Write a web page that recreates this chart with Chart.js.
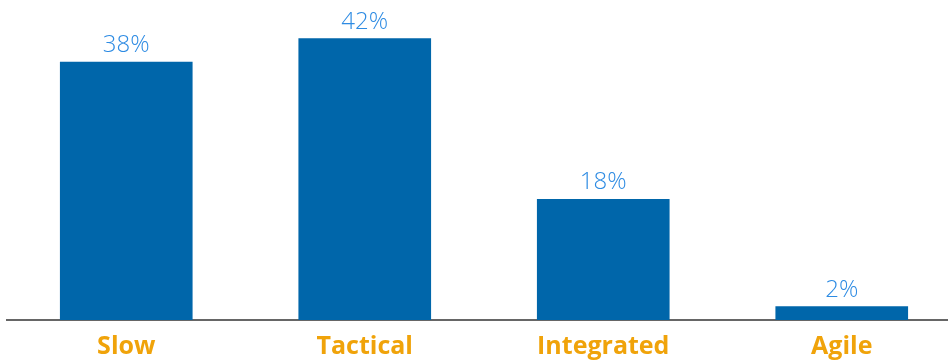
<!DOCTYPE html>
<html>
<head>
<meta charset="utf-8">
<script src="https://cdn.jsdelivr.net/npm/chart.js@4/dist/chart.umd.min.js"></script>
<style>
  html, body { margin: 0; padding: 0; background: #fff; overflow: hidden; }
  #wrap { width: 961px; height: 362px; position: relative; }
</style>
</head>
<body>
<div id="wrap"><canvas id="c"></canvas></div>
<script>
const categories = ["Slow", "Tactical", "Integrated", "Agile"];
const shares = [38.5, 42, 18, 2];
const valueLabels = ["38%", "42%", "18%", "2%"];

const barLabels = {
  id: 'barLabels',
  afterDatasetsDraw(chart) {
    const ctx = chart.ctx;
    const meta = chart.getDatasetMeta(0);
    ctx.save();
    ctx.font = '300 24px "Open Sans", sans-serif';
    ctx.fillStyle = '#2D8BE3';
    ctx.textAlign = 'center';
    ctx.textBaseline = 'alphabetic';
    meta.data.forEach((bar, i) => {
      ctx.fillText(valueLabels[i], bar.x, bar.y - 10);
    });
    ctx.restore();
  }
};

new Chart(document.getElementById('c'), {
  type: 'bar',
  data: {
    labels: categories,
    datasets: [{
      data: shares,
      backgroundColor: '#0066AA',
      borderWidth: 0,
      barThickness: 132
    }]
  },
  options: {
    responsive: true,
    maintainAspectRatio: false,
    animation: false,
    layout: { padding: { left: 7, right: 0, top: 5, bottom: 0 } },
    plugins: { legend: { display: false }, tooltip: { enabled: false } },
    scales: {
      x: {
        grid: { display: false, drawTicks: false },
        border: { display: true, color: '#666666', width: 2 },
        ticks: {
          color: '#F0A30A',
          font: { family: '"Open Sans", sans-serif', size: 25, weight: 'bold' },
          padding: 12
        },
        afterFit(scale) { scale.height = 42; }
      },
      y: {
        display: false,
        min: 0,
        max: 47
      }
    }
  },
  plugins: [barLabels]
});
</script>
</body>
</html>
